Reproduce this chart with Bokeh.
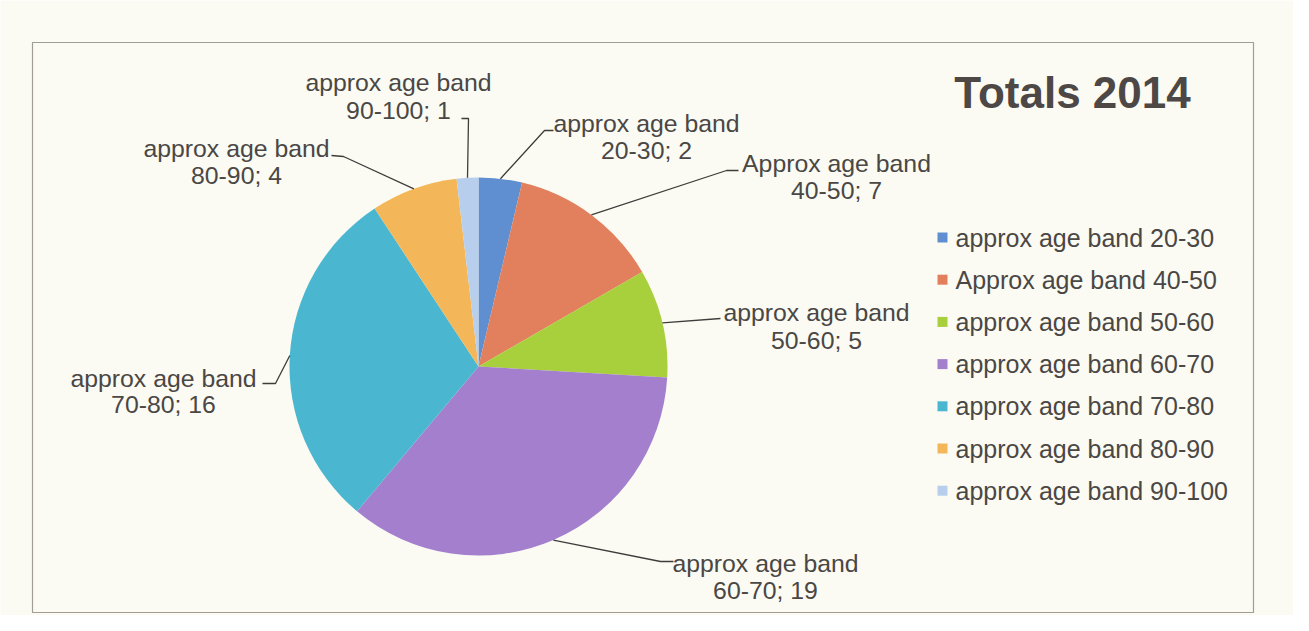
import numpy as np
from bokeh.plotting import figure
from bokeh.models import Range1d
from bokeh.embed import file_html
from bokeh.resources import INLINE
from bokeh.core.properties import value

# ---- data ----
categories = [
    "approx age band 20-30",
    "Approx age band 40-50",
    "approx age band 50-60",
    "approx age band 60-70",
    "approx age band 70-80",
    "approx age band 80-90",
    "approx age band 90-100",
]
counts = [2, 7, 5, 19, 16, 4, 1]
colors = ["#5f8fd0", "#e2805e", "#a8cf3c", "#a37fce", "#4bb6cf", "#f3b75a", "#b7cfec"]
title_text = "Totals 2014"

# ---- layout (image pixel coords, converted to data coords) ----
W, H = 1293, 615
IMG_H = 631


def X(px):
    return px


def Y(py):
    return IMG_H - py


cx, cy, R = 478, 366, 189
FONT = "Liberation Sans"
TXT = "#4a4745"

# label block centers (line1 y, line2 y) and leader elbow points per slice
label_pos = [
    (646, 123, 150),
    (836, 163, 190),
    (816, 312, 340),
    (765, 563, 590),
    (163, 378, 404),
    (236, 148, 175),
    (398, 82, 110),
]
leader_pts = [
    [(544, 130), (553, 130)],
    [(726, 170), (738, 170)],
    [(720, 318)],
    [(660, 561), (673, 561)],
    [(275, 383), (262, 383)],
    [(343, 156), (331, 155)],
    [(468, 118), (461, 118)],
]

p = figure(width=W, height=H, output_backend="svg", toolbar_location=None,
           x_range=Range1d(0, W), y_range=Range1d(IMG_H - H, IMG_H),
           min_border=0, background_fill_color="#fbfbf3", border_fill_color="#fbfbf3")
p.axis.visible = False
p.grid.visible = False
p.outline_line_color = None

# chart frame
p.quad(left=X(32), right=X(1253), top=Y(42), bottom=Y(612),
       fill_color=None, line_color="#a19c94", line_width=1.2)

# pie
vals = np.array(counts, dtype=float)
total = vals.sum()
cum = np.concatenate([[0.0], np.cumsum(vals)])
start = np.pi / 2 - 2 * np.pi * cum[:-1] / total
end = np.pi / 2 - 2 * np.pi * cum[1:] / total
p.wedge(x=X(cx), y=Y(cy), radius=R, start_angle=start, end_angle=end,
        direction="clock", fill_color=colors, line_color=None)

# leader lines
mid = (start + end) / 2
xs, ys = [], []
for i, m in enumerate(mid):
    ax = X(cx) + R * np.cos(m)
    ay = Y(cy) + R * np.sin(m)
    px = [ax] + [X(a) for a, b in leader_pts[i]]
    py = [ay] + [Y(b) for a, b in leader_pts[i]]
    xs.append(px)
    ys.append(py)
p.multi_line(xs=xs, ys=ys, line_color="#3f3d3b", line_width=1.3)

# data labels
l1x, l1y, l2y, l1t, l2t = [], [], [], [], []
for i, cat in enumerate(categories):
    prefix, band = cat.rsplit(" ", 1)
    lx, y1, y2 = label_pos[i]
    l1x.append(X(lx)); l1y.append(Y(y1)); l2y.append(Y(y2))
    l1t.append(prefix); l2t.append(f"{band}; {counts[i]}")
p.text(x=l1x, y=l1y, text=l1t, text_align="center", text_baseline="middle",
       text_font=value(FONT), text_font_size="24.8px", text_color=TXT)
p.text(x=l1x, y=l2y, text=l2t, text_align="center", text_baseline="middle",
       text_font=value(FONT), text_font_size="24.8px", text_color=TXT)

# legend
leg_y = [Y(237 + i * 42.2) for i in range(len(categories))]
p.scatter(x=[X(942)] * len(categories), y=leg_y, marker="square", size=10,
          fill_color=colors, line_color=None)
p.text(x=[X(955)] * len(categories), y=leg_y, text=categories, text_align="left",
       text_baseline="middle", text_font=value(FONT), text_font_size="25px",
       text_color=TXT)

# title
p.text(x=[X(1072)], y=[Y(92)], text=[title_text], text_align="center",
       text_baseline="middle", text_font=value(FONT), text_font_size="44px",
       text_font_style="bold", text_color="#4d4845")

open("out.html", "w").write(file_html(p, INLINE))
